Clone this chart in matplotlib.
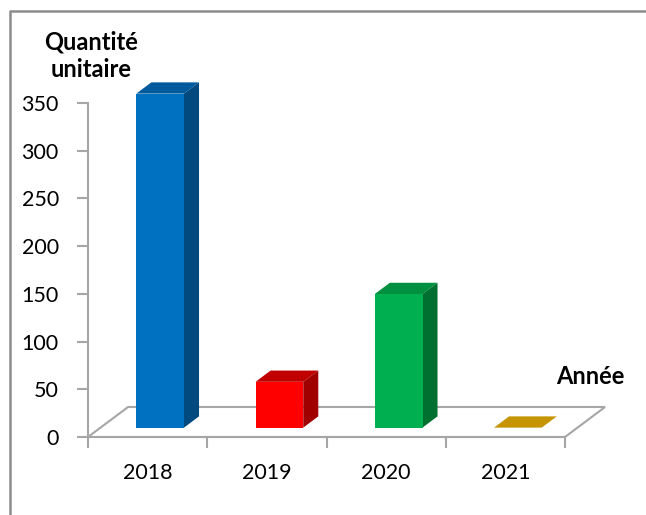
import matplotlib.pyplot as plt
from matplotlib.patches import Polygon
from matplotlib.lines import Line2D

plt.rcParams['font.family'] = ['Lato', 'DejaVu Sans']

years = ['2018', '2019', '2020', '2021']
quantities = [350, 48, 140, 0]
front_colors = ['#0070C0', '#FF0000', '#00B050', '#C59400']
top_colors = ['#005A9E', '#C00000', '#00903F', '#C59400']
side_colors = ['#004A80', '#A00000', '#007030', '#C59400']
y_ticks = [0, 50, 100, 150, 200, 250, 300, 350]

AXIS_GRAY = '#A6A6A6'

# depth of the floor, expressed in data units (categories, quantity)
DX = 40 / 119
DY = 30 / 0.954
BAR_W = 0.4
D0, D1 = 0.3125, 0.6875


def proj(x, v, d):
    return (x + d * DX, v + d * DY)


def main():
    fig = plt.figure(figsize=(6.46, 5.15), dpi=100)
    ax = fig.add_axes([88 / 646, 78 / 515, 477 / 646, 334 / 515])
    ax.set_xlim(-0.5, len(years) - 0.5)
    ax.set_ylim(0, 350)
    ax.patch.set_visible(False)

    for s in ['top', 'right']:
        ax.spines[s].set_visible(False)
    for s in ['left', 'bottom']:
        ax.spines[s].set_color(AXIS_GRAY)
        ax.spines[s].set_linewidth(1.5)
        ax.spines[s].set_zorder(1)

    # floor of the 3d box
    x_lo, x_hi = -0.5, len(years) - 0.5
    floor = Polygon([proj(x_lo, 0, 0), proj(x_hi, 0, 0), proj(x_hi, 0, 1),
                     proj(x_lo, 0, 1)], closed=True, facecolor='white',
                    edgecolor=AXIS_GRAY, linewidth=1.5, clip_on=False,
                    zorder=0.5)
    ax.add_patch(floor)

    for i, v in enumerate(quantities):
        x0, x1 = i - BAR_W / 2, i + BAR_W / 2
        top = [proj(x0, v, D0), proj(x1, v, D0), proj(x1, v, D1),
               proj(x0, v, D1)]
        ax.add_patch(Polygon(top, closed=True, facecolor=top_colors[i],
                             edgecolor='none', clip_on=False, zorder=3))
        if v > 0:
            side = [proj(x1, 0, D0), proj(x1, v, D0), proj(x1, v, D1),
                    proj(x1, 0, D1)]
            front = [proj(x0, 0, D0), proj(x1, 0, D0), proj(x1, v, D0),
                     proj(x0, v, D0)]
            ax.add_patch(Polygon(side, closed=True, facecolor=side_colors[i],
                                 edgecolor='none', clip_on=False, zorder=3))
            ax.add_patch(Polygon(front, closed=True,
                                 facecolor=front_colors[i],
                                 edgecolor='none', clip_on=False, zorder=4))

    ax.set_yticks(y_ticks)
    ax.set_yticklabels([str(t) for t in y_ticks])
    ax.set_xticks([i - 0.5 for i in range(len(years) + 1)])
    ax.set_xticklabels([])
    ax.set_xticks(range(len(years)), minor=True)
    ax.set_xticklabels(years, minor=True)
    ax.tick_params(axis='both', which='major', direction='out', length=8,
                   width=1.5, color=AXIS_GRAY, labelsize=15.5)
    ax.tick_params(axis='y', pad=13)
    ax.tick_params(axis='x', which='minor', length=0, pad=19, labelsize=15.5)

    fig.text(91 / 646, 1 - 56 / 515, 'Quantité\nunitaire', ha='center',
             va='center', fontsize=17, fontweight='bold', linespacing=1.22)
    fig.text(590 / 646, 1 - 376 / 515, 'Année', ha='center', va='center',
             fontsize=17, fontweight='bold')

    # chart area border (left and top edges)
    fig.add_artist(Line2D([10 / 646, 10 / 646, 1], [0, 1 - 11 / 515, 1 - 11 / 515],
                          color='#8C8C8C', linewidth=1.8))

    fig.savefig('out.png', dpi=100)


if __name__ == "__main__":
    main()
